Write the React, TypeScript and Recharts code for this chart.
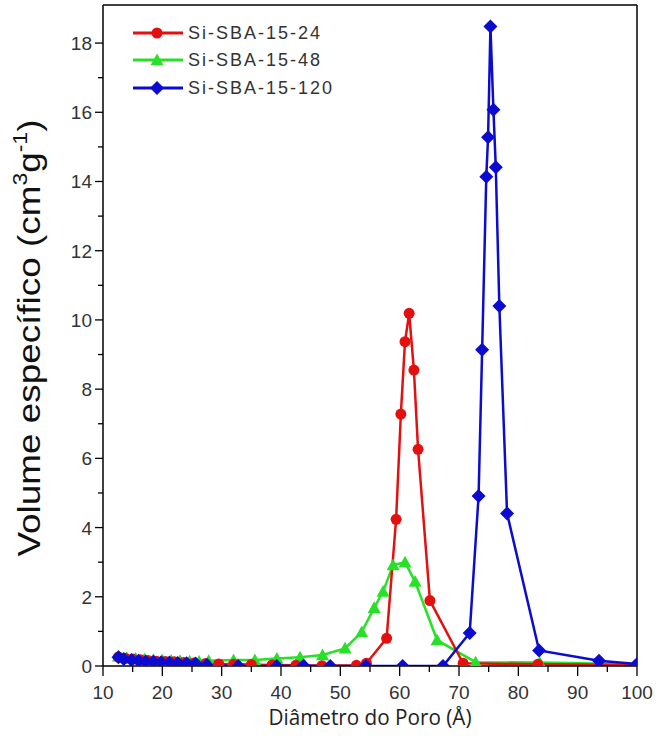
import React from 'react';
import { LineChart, Line, XAxis, YAxis, ReferenceLine, Legend } from 'recharts';

// ---- data ----
const redX = [12.6, 13.8, 15.0, 16.3, 17.6, 19.0, 20.5, 22.0, 23.6, 25.3, 27.3, 29.5, 32.0, 35.0, 38.5, 42.5, 46.9, 52.7, 54.4, 57.8, 59.4, 60.2, 60.9, 61.6, 62.4, 63.1, 65.1, 70.7, 83.3, 100];
const redY = [0.26, 0.22, 0.2, 0.18, 0.16, 0.14, 0.13, 0.12, 0.1, 0.09, 0.07, 0.06, 0.05, 0.04, 0.03, 0.02, 0.01, 0.02, 0.08, 0.8, 4.24, 7.28, 9.37, 10.19, 8.55, 6.26, 1.89, 0.08, 0.05, 0.03];

const greenX = [12.6, 14.0, 15.5, 17.0, 18.5, 20.0, 21.5, 23.0, 24.6, 26.2, 27.8, 32.0, 35.6, 39.3, 43.2, 47.0, 50.8, 53.6, 55.7, 57.2, 58.9, 60.9, 62.6, 66.3, 72.8, 83.6, 100];
const greenY = [0.28, 0.24, 0.22, 0.2, 0.18, 0.17, 0.16, 0.15, 0.14, 0.13, 0.15, 0.17, 0.17, 0.22, 0.25, 0.32, 0.51, 0.98, 1.68, 2.15, 2.92, 3.0, 2.44, 0.75, 0.11, 0.1, 0.05];

const blueX = [12.6, 13.5, 14.8, 16.0, 17.2, 18.5, 19.8, 21.2, 22.6, 24.1, 25.6, 27.5, 32.8, 39.3, 43.8, 48.3, 54.3, 60.5, 67.3, 71.8, 73.3, 73.9, 74.6, 74.9, 75.3, 75.8, 76.2, 76.8, 78.1, 83.5, 93.6, 100];
const blueY = [0.25, 0.2, 0.17, 0.15, 0.13, 0.12, 0.11, 0.1, 0.09, 0.08, 0.07, 0.03, 0.0, 0.0, 0.01, 0.0, 0.0, 0.0, 0.0, 0.95, 4.91, 9.14, 14.14, 15.28, 18.48, 16.07, 14.41, 10.4, 4.41, 0.45, 0.15, 0.06];

const seriesNames = ['Si-SBA-15-24', 'Si-SBA-15-48', 'Si-SBA-15-120'];
const xTicks = [10, 15, 20, 25, 30, 35, 40, 45, 50, 55, 60, 65, 70, 75, 80, 85, 90, 95, 100];
const yTicks = [0, 1, 2, 3, 4, 5, 6, 7, 8, 9, 10, 11, 12, 13, 14, 15, 16, 17, 18];

const toPts = (xs: number[], ys: number[]) => xs.map((x, i) => ({ x, y: ys[i] }));
const redData = toPts(redX, redY);
const greenData = toPts(greenX, greenY);
const blueData = toPts(blueX, blueY);

const RED = '#e41010';
const GREEN = '#28e028';
const BLUE = '#0c0cd0';
const TICK_FONT = '"Liberation Sans", Arial, sans-serif';

function XTick(props: any) {
  const { x, y, payload } = props;
  const v = payload.value;
  const major = v % 10 === 0;
  return (
    <g>
      <line x1={x} x2={x} y1={y} y2={y + (major ? 10 : 6)} stroke="#000" strokeWidth={1.3} />
      {major && (
        <text x={x} y={y + 33} textAnchor="middle" fontSize={19} fontFamily={TICK_FONT} fill="#333">
          {v}
        </text>
      )}
    </g>
  );
}

function YTick(props: any) {
  const { x, y, payload } = props;
  const v = payload.value;
  const major = v % 2 === 0;
  return (
    <g>
      <line x1={x - (major ? 8 : 5)} x2={x} y1={y} y2={y} stroke="#000" strokeWidth={1.3} />
      {major && (
        <text x={x - 11} y={y + 7} textAnchor="end" fontSize={19} fontFamily={TICK_FONT} fill="#333">
          {v}
        </text>
      )}
    </g>
  );
}

function YTitle() {
  return (
    <text
      transform="translate(40,338) rotate(-90)"
      textAnchor="middle"
      fontSize={32}
      fontFamily={TICK_FONT}
      fill="#111"
      textLength={437}
      lengthAdjust="spacingAndGlyphs"
    >
      Volume específico (cm<tspan fontSize={20} dy={-13}>3</tspan>
      <tspan dy={13}>g</tspan>
      <tspan fontSize={20} dy={-13}>-1</tspan>
      <tspan dy={13}>)</tspan>
    </text>
  );
}

function XTitle() {
  return (
    <text
      x={370}
      y={725}
      textAnchor="middle"
      fontSize={21}
      fontFamily='"Open Sans", "Noto Sans", sans-serif'
      fill="#222"
      textLength={203}
      lengthAdjust="spacingAndGlyphs"
    >
      Diâmetro do Poro (Å)
    </text>
  );
}

function Circle(props: any) {
  const { cx, cy, index } = props;
  if (cx == null || cy == null) return <g key={`r${index}`} />;
  return <circle key={`r${index}`} cx={cx} cy={cy} r={5.5} fill={RED} />;
}
function Tri(props: any) {
  const { cx, cy, index } = props;
  if (cx == null || cy == null) return <g key={`g${index}`} />;
  const s = 6.5;
  return <polygon key={`g${index}`} points={`${cx},${cy - s} ${cx - s},${cy + s * 0.8} ${cx + s},${cy + s * 0.8}`} fill={GREEN} />;
}
function Diamond(props: any) {
  const { cx, cy, index } = props;
  if (cx == null || cy == null) return <g key={`b${index}`} />;
  const s = 7;
  return <polygon key={`b${index}`} points={`${cx},${cy - s} ${cx + s},${cy} ${cx},${cy + s} ${cx - s},${cy}`} fill={BLUE} />;
}

function LegendContent() {
  const colors = [RED, GREEN, BLUE];
  const markers = [
    <circle cx={24} cy={10} r={5.5} fill={RED} />,
    <polygon points="24,3.5 17.5,15.2 30.5,15.2" fill={GREEN} />,
    <polygon points="24,3 31,10 24,17 17,10" fill={BLUE} />,
  ];
  return (
    <div style={{ position: 'relative' }}>
      {seriesNames.map((n, i) => (
        <div key={n} style={{ display: 'flex', alignItems: 'center', height: 27.5 }}>
          <svg width={50} height={20} style={{ display: 'block' }}>
            <line x1={0} x2={50} y1={10} y2={10} stroke={colors[i]} strokeWidth={3} />
            {markers[i]}
          </svg>
          <span
            style={{
              marginLeft: 5,
              fontFamily: TICK_FONT,
              fontSize: 18,
              letterSpacing: 2,
              color: '#333',
              lineHeight: '20px',
              whiteSpace: 'nowrap',
            }}
          >
            {n}
          </span>
        </div>
      ))}
    </div>
  );
}

export default function App() {
  return (
    <div style={{ position: 'absolute', left: 0, top: 0, width: 658, height: 744, background: '#fff' }}>
      <LineChart width={658} height={744} margin={{ top: 5, right: 21, bottom: 0, left: 0 }}>
        <XAxis
          type="number"
          dataKey="x"
          domain={[10, 100]}
          ticks={xTicks}
          interval={0}
          allowDataOverflow
          height={78}
          tickSize={0}
          tickMargin={0}
          tickLine={false}
          tick={<XTick />}
          axisLine={{ stroke: '#000', strokeWidth: 1.5 }}
          label={<XTitle />}
        />
        <YAxis
          type="number"
          domain={[0, 19.1]}
          ticks={yTicks}
          interval={0}
          allowDataOverflow
          width={103}
          tickSize={0}
          tickMargin={0}
          tickLine={false}
          tick={<YTick />}
          axisLine={{ stroke: '#000', strokeWidth: 1.5 }}
          label={<YTitle />}
        />
        <ReferenceLine y={19.1} stroke="#000" strokeWidth={1.5} />
        <ReferenceLine x={100} stroke="#000" strokeWidth={1.5} />
        <Legend
          layout="vertical"
          align="center"
          verticalAlign="middle"
          content={<LegendContent />}
          wrapperStyle={{ position: 'absolute', left: 133, top: 19, width: 240, height: 85 }}
        />
        <Line data={greenData} dataKey="y" name={seriesNames[1]} stroke={GREEN} strokeWidth={2.5} dot={Tri} activeDot={false} isAnimationActive={false} />
        <Line data={redData} dataKey="y" name={seriesNames[0]} stroke={RED} strokeWidth={2.5} dot={Circle} activeDot={false} isAnimationActive={false} />
        <Line data={blueData} dataKey="y" name={seriesNames[2]} stroke={BLUE} strokeWidth={2.5} dot={Diamond} activeDot={false} isAnimationActive={false} />
      </LineChart>
    </div>
  );
}
